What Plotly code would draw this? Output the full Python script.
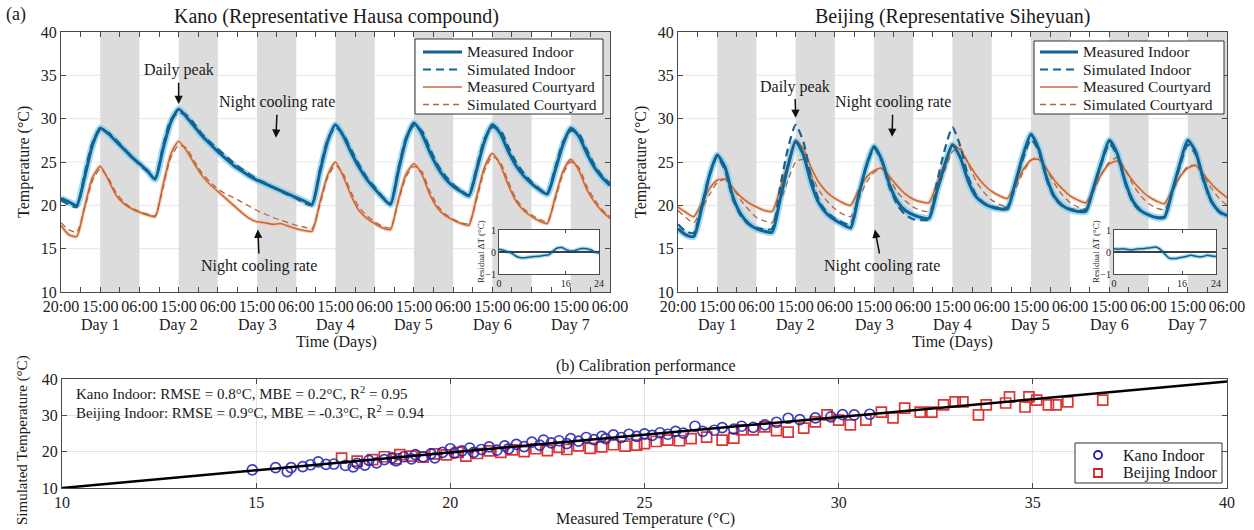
import numpy as np
import plotly.graph_objects as go

W, H = 1254, 530
FONT = "Liberation Serif, Times New Roman, serif"

# ---------------- data: time series (days, 0.1-day steps) ----------------
t_days = np.round(np.arange(0, 7.01, 0.1), 1)

kano_meas_indoor = [
    20.8, 20.4, 20.0, 23.2, 26.9, 28.9, 28.3, 27.4, 26.5, 25.6,
    24.8, 24.0, 23.0, 26.5, 29.6, 31.1, 30.2, 29.1, 28.0, 27.1,
    26.2, 25.4, 24.6, 24.0, 23.4, 22.9, 22.5, 22.1, 21.7, 21.3,
    20.9, 20.5, 20.1, 23.8, 27.4, 29.3, 28.0, 26.1, 24.4, 23.0,
    21.9, 20.9, 20.1, 23.9, 27.6, 29.5, 28.3, 26.2, 24.4, 23.1,
    22.2, 21.6, 21.1, 24.1, 27.4, 29.3, 28.3, 26.3, 24.6, 23.4,
    22.5, 21.8, 21.3, 24.0, 27.0, 28.9, 28.0, 26.1, 24.4, 23.2,
    22.3]
kano_sim_indoor = [
    20.6, 20.1, 19.8, 23.6, 27.2, 28.7, 28.4, 27.6, 26.6, 25.6,
    24.7, 23.9, 23.1, 26.8, 29.9, 30.7, 30.4, 29.4, 28.2, 27.3,
    26.5, 25.7, 24.9, 24.2, 23.6, 23.0, 22.6, 22.1, 21.6, 21.2,
    20.8, 20.3, 20.0, 24.1, 27.6, 29.0, 28.2, 26.4, 24.7, 23.2,
    22.1, 21.0, 20.2, 24.2, 27.8, 29.2, 28.6, 26.6, 24.7, 23.4,
    22.4, 21.7, 21.2, 24.4, 27.7, 29.0, 28.7, 26.8, 25.0, 23.7,
    22.7, 21.9, 21.4, 24.3, 27.3, 28.6, 28.3, 26.5, 24.7, 23.4,
    22.5]
kano_meas_court = [
    17.7, 16.6, 16.4, 19.8, 23.2, 24.5, 23.0, 21.2, 20.2, 19.6,
    19.2, 18.9, 18.7, 22.3, 25.9, 27.4, 26.3, 24.8, 23.4, 22.4,
    21.6, 20.8, 20.0, 19.2, 18.5, 18.1, 18.0, 17.8, 17.9, 17.6,
    17.3, 17.1, 17.0, 20.3, 23.5, 25.0, 23.3, 21.1, 19.4, 18.5,
    17.9, 17.4, 17.2, 20.6, 23.6, 24.8, 23.6, 21.3, 19.7, 18.8,
    18.3, 17.9, 17.7, 21.0, 24.4, 26.0, 24.7, 22.4, 20.5, 19.4,
    18.7, 18.2, 17.9, 20.9, 23.9, 25.3, 24.1, 21.9, 20.4, 19.3,
    18.5]
kano_sim_court = [
    18.0, 17.2, 16.9, 19.6, 22.8, 24.2, 23.2, 21.5, 20.4, 19.7,
    19.3, 19.0, 18.8, 22.0, 25.5, 26.9, 26.6, 25.1, 23.7, 22.7,
    21.9, 21.3, 20.9, 20.4, 19.9, 19.4, 19.0, 18.6, 18.3, 18.0,
    17.7, 17.5, 17.3, 20.0, 23.2, 24.6, 23.6, 21.5, 19.8, 18.8,
    18.1, 17.6, 17.4, 20.4, 23.3, 24.5, 23.9, 21.7, 20.0, 19.0,
    18.4, 18.0, 17.9, 20.7, 24.0, 25.6, 25.0, 22.8, 20.8, 19.6,
    18.9, 18.4, 18.1, 20.6, 23.6, 25.0, 24.4, 22.3, 20.7, 19.5,
    18.7]

beijing_meas_indoor = [
    17.3, 16.6, 16.4, 19.6, 23.4, 25.8, 24.4, 21.0, 19.0, 17.9,
    17.3, 17.0, 16.9, 20.6, 24.4, 27.4, 25.8, 22.5, 20.2, 19.0,
    18.3, 17.8, 17.4, 21.0, 24.5, 26.8, 25.2, 22.3, 20.4, 19.4,
    18.9, 18.6, 18.5, 21.6, 24.6, 27.0, 25.5, 22.8, 21.0, 20.2,
    19.8, 19.6, 19.6, 22.6, 25.8, 28.2, 26.5, 23.2, 21.0, 20.0,
    19.5, 19.3, 19.3, 22.1, 25.0, 27.5, 26.0, 22.8, 20.5, 19.4,
    18.9, 18.6, 18.6, 21.6, 24.8, 27.5, 26.2, 23.0, 20.5, 19.3,
    18.8]
beijing_sim_indoor = [
    17.8, 17.0, 16.8, 19.9, 23.5, 25.6, 24.0, 20.7, 18.8, 17.8,
    17.4, 17.2, 17.3, 22.0, 26.5, 29.3, 27.3, 23.2, 20.5, 19.2,
    18.5, 18.0, 17.8, 21.2, 24.4, 26.6, 25.0, 22.0, 20.0, 18.9,
    18.4, 18.3, 18.4, 22.6, 26.4, 29.0, 26.8, 23.3, 21.2, 20.3,
    19.9, 19.7, 19.8, 22.4, 25.4, 27.6, 26.3, 23.0, 20.8, 19.9,
    19.6, 19.4, 19.5, 22.0, 24.8, 27.1, 25.8, 22.6, 20.3, 19.3,
    18.9, 18.6, 18.7, 21.5, 24.5, 27.0, 25.9, 22.8, 20.4, 19.2,
    18.6]
beijing_meas_court = [
    19.8, 19.2, 18.7, 20.2, 21.9, 22.9, 23.0, 22.0, 21.0, 20.3,
    19.8, 19.4, 19.3, 21.8, 24.8, 27.5, 26.5, 24.3, 22.6, 21.5,
    20.8, 20.3, 20.0, 21.7, 23.2, 24.0, 24.3, 23.3, 22.2, 21.3,
    20.7, 20.4, 20.3, 22.5, 24.9, 27.0, 26.4, 24.9, 23.5, 22.4,
    21.6, 21.1, 20.8, 22.4, 24.1, 25.2, 25.3, 24.2, 22.9, 21.9,
    21.1, 20.6, 20.3, 21.9, 23.6, 24.8, 25.1, 24.1, 22.8, 21.8,
    21.0, 20.5, 20.2, 21.7, 23.3, 24.3, 24.6, 23.6, 22.5, 21.6,
    20.9]
beijing_sim_court = [
    19.4, 18.6, 18.0, 19.5, 21.2, 22.6, 23.0, 22.0, 20.6, 19.5,
    18.6, 18.2, 18.0, 20.3, 22.8, 25.0, 25.3, 23.5, 21.7, 20.5,
    19.6, 19.0, 18.7, 20.6, 22.6, 23.8, 24.2, 23.0, 21.5, 20.5,
    19.8, 19.4, 19.3, 21.5, 24.0, 26.2, 26.6, 24.8, 22.8, 21.5,
    20.6, 20.1, 19.9, 21.8, 23.8, 25.2, 25.6, 24.2, 22.5, 21.2,
    20.3, 19.8, 19.6, 21.6, 23.6, 25.0, 25.5, 24.2, 22.4, 21.1,
    20.2, 19.7, 19.5, 21.4, 23.3, 24.5, 24.6, 23.5, 22.0, 20.8,
    20.0]

# axis tick definitions
x_tick_vals = [i * 0.5 for i in range(15)]
x_tick_text = ["20:00"] + ["15:00", "06:00"] * 7
day_names = ["Day 1", "Day 2", "Day 3", "Day 4", "Day 5", "Day 6", "Day 7"]
day_centers = [0.5, 1.5, 2.5, 3.5, 4.5, 5.5, 6.5]
night_bands = [(0.5, 1.0), (1.5, 2.0), (2.5, 3.0), (3.5, 4.0), (4.5, 5.0), (5.5, 6.0), (6.5, 7.0)]
temp_grid = [15, 20, 25, 30, 35]
series_names = ["Measured Indoor", "Simulated Indoor", "Measured Courtyard", "Simulated Courtyard"]

# residual insets (hour of day)
resid_hours = list(range(25))
kano_resid = [0.12, 0.08, 0.02, -0.05, -0.18, -0.25, -0.26, -0.24, -0.22, -0.20, -0.18, -0.15, -0.12,
              0.05, 0.18, 0.20, 0.12, 0.05, 0.05, 0.12, 0.16, 0.15, 0.10, 0.00, -0.05]
beijing_resid = [0.15, 0.13, 0.15, 0.12, 0.10, 0.12, 0.15, 0.15, 0.18, 0.20, 0.22, 0.10, -0.10,
                 -0.28, -0.30, -0.28, -0.24, -0.20, -0.15, -0.18, -0.22, -0.20, -0.15, -0.18, -0.20]

# calibration scatter (measured, simulated)
kano_scatter = [
    (14.9, 15.0), (15.5, 15.6), (15.8, 14.5), (15.9, 15.6), (16.2, 15.9), (16.4, 16.4), (16.6, 17.2),
    (16.8, 16.5), (17.0, 16.6), (17.3, 16.2), (17.5, 15.8), (17.6, 16.8), (17.8, 16.3), (17.9, 17.6),
    (18.1, 16.9), (18.3, 17.8), (18.5, 18.3), (18.6, 17.5), (18.8, 18.6), (19.0, 18.0), (19.1, 19.2),
    (19.3, 18.6), (19.5, 19.4), (19.6, 18.3), (19.8, 19.8), (20.0, 20.8), (20.1, 19.6), (20.3, 20.2),
    (20.5, 21.0), (20.6, 19.8), (20.8, 20.6), (21.0, 21.3), (21.2, 20.4), (21.4, 21.6), (21.5, 20.8),
    (21.7, 22.0), (21.9, 21.4), (22.1, 22.6), (22.3, 21.8), (22.4, 23.2), (22.6, 22.4), (22.8, 23.0),
    (23.0, 22.2), (23.1, 23.6), (23.3, 22.9), (23.5, 23.9), (23.7, 23.3), (23.9, 24.2), (24.0, 23.6),
    (24.2, 24.6), (24.4, 23.9), (24.6, 24.8), (24.8, 24.2), (25.0, 24.9), (25.2, 24.5), (25.4, 25.2),
    (25.6, 24.8), (25.8, 25.6), (26.0, 25.1), (26.3, 27.0), (26.5, 25.6), (26.8, 25.9), (27.0, 26.6),
    (27.3, 26.2), (27.5, 27.0), (27.8, 26.7), (28.1, 27.4), (28.4, 28.1), (28.7, 29.2), (29.0, 28.8),
    (29.4, 29.3), (29.8, 29.6), (30.1, 30.2), (30.4, 30.1), (30.8, 30.3)]
beijing_scatter = [
    (17.2, 18.2), (17.6, 17.4), (18.0, 17.8), (18.3, 18.6), (18.6, 18.0), (18.7, 19.2), (19.0, 18.8),
    (19.3, 18.5), (19.6, 19.4), (19.9, 19.1), (20.2, 19.8), (20.4, 18.8), (20.7, 19.5), (21.0, 20.2),
    (21.3, 19.8), (21.6, 20.5), (21.9, 20.0), (22.2, 20.8), (22.5, 20.3), (22.8, 21.2), (23.0, 20.6),
    (23.3, 21.6), (23.6, 20.9), (23.9, 21.3), (24.2, 21.9), (24.5, 21.5), (24.8, 21.8), (25.0, 22.2),
    (25.3, 22.8), (25.6, 23.2), (25.9, 23.0), (26.2, 23.6), (26.6, 24.0), (27.0, 23.2), (27.3, 23.7),
    (27.5, 26.0), (27.8, 26.0), (28.1, 26.8), (28.4, 25.8), (28.7, 25.4), (29.1, 26.5), (29.4, 28.2),
    (29.7, 30.1), (30.0, 28.7), (30.3, 27.4), (30.7, 28.7), (31.1, 30.9), (31.4, 29.3), (31.7, 32.0),
    (32.1, 30.9), (32.4, 30.9), (32.7, 32.9), (33.0, 33.7), (33.2, 33.7), (33.6, 30.1), (33.8, 32.9),
    (34.3, 33.4), (34.4, 35.1), (34.8, 32.3), (34.9, 35.1), (35.1, 34.2), (35.4, 32.9), (35.6, 32.9),
    (35.9, 33.7), (36.8, 34.2)]
fit_x = [10, 40]
fit_y = [10, 39.3]

stats_lines = ["Kano Indoor: RMSE = 0.8°C, MBE = 0.2°C, R<sup>2</sup> = 0.95",
               "Beijing Indoor: RMSE = 0.9°C, MBE = -0.3°C, R<sup>2</sup> = 0.94"]
scatter_names = ["Kano Indoor", "Beijing Indoor"]

# ---------------- styling ----------------
BLUE = "#16628e"
BLUE_HALO = "rgba(130,205,240,0.75)"
ORANGE = "#c46a3e"
ORANGE_SIM = "#b5653f"
ORANGE_HALO = "rgba(245,200,170,0.7)"
KANO_C = "#1c1cb4"
BEIJING_C = "#d82020"
AX = "#4a4a4a"
TXT = "#1a1a1a"
series_styles = [  # color, width, dash
    (BLUE, 3, "solid"),
    (BLUE, 2.2, "8px,5px"),
    (ORANGE, 1.6, "solid"),
    (ORANGE_SIM, 1.3, "6px,4px"),
]


def xdom(a, b):
    return [a / W, b / W]


def ydom(top, bottom):
    return [1 - bottom / H, 1 - top / H]


def py(v):
    return 1 - v / H


# pixel layout
LEFT = (61, 610)
RIGHT = (678, 1227)
TOP_Y = (32, 292)
BOT = (62, 1227)
BOT_Y = (379, 488)
INSET_L = (499, 599)
INSET_R = (1114, 1216)
INSET_Y = (230, 274)

fig = go.Figure()


def add_series(xa, ya, data):
    mi, si, mc, sc = data
    fig.add_trace(go.Scatter(x=t_days, y=mc, mode="lines", line=dict(color=ORANGE_HALO, width=4, shape="spline", smoothing=0.6),
                             xaxis=xa, yaxis=ya, showlegend=False, hoverinfo="skip"))
    fig.add_trace(go.Scatter(x=t_days, y=mi, mode="lines", line=dict(color=BLUE_HALO, width=7, shape="spline", smoothing=0.6),
                             xaxis=xa, yaxis=ya, showlegend=False, hoverinfo="skip"))
    for idx in (2, 3, 0, 1):
        col, wid, dash = series_styles[idx]
        fig.add_trace(go.Scatter(x=t_days, y=data[idx], mode="lines", name=series_names[idx], showlegend=False,
                                 line=dict(color=col, width=wid, dash=dash, shape="spline", smoothing=0.6),
                                 xaxis=xa, yaxis=ya))


add_series("x", "y", (kano_meas_indoor, kano_sim_indoor, kano_meas_court, kano_sim_court))
add_series("x2", "y2", (beijing_meas_indoor, beijing_sim_indoor, beijing_meas_court, beijing_sim_court))

# calibration scatter
fig.add_trace(go.Scatter(x=[p[0] for p in beijing_scatter], y=[p[1] for p in beijing_scatter], mode="markers",
                         name=scatter_names[1], showlegend=False,
                         marker=dict(symbol="square-open", size=10, color=BEIJING_C, line=dict(width=1.7)),
                         opacity=0.9, xaxis="x3", yaxis="y3"))
fig.add_trace(go.Scatter(x=[p[0] for p in kano_scatter], y=[p[1] for p in kano_scatter], mode="markers",
                         name=scatter_names[0], showlegend=False,
                         marker=dict(symbol="circle-open", size=10, color=KANO_C, line=dict(width=1.7)),
                         opacity=0.85, xaxis="x3", yaxis="y3"))
fig.add_trace(go.Scatter(x=fit_x, y=fit_y, mode="lines", line=dict(color="black", width=2.5),
                         showlegend=False, xaxis="x3", yaxis="y3", hoverinfo="skip"))

# insets
for xa, ya, res in (("x4", "y4", kano_resid), ("x5", "y5", beijing_resid)):
    fig.add_trace(go.Scatter(x=resid_hours, y=res, mode="lines", line=dict(color=BLUE_HALO, width=4, shape="spline"),
                             showlegend=False, xaxis=xa, yaxis=ya, hoverinfo="skip"))
    fig.add_trace(go.Scatter(x=[resid_hours[0], resid_hours[-1]], y=[0, 0], mode="lines",
                             line=dict(color="black", width=1.5), showlegend=False, xaxis=xa, yaxis=ya))
    fig.add_trace(go.Scatter(x=resid_hours, y=res, mode="lines", line=dict(color="#1d5f80", width=1.5, shape="spline"),
                             showlegend=False, xaxis=xa, yaxis=ya))

# ---------------- axes ----------------
common = dict(showline=True, linecolor=AX, linewidth=1, mirror="ticks", ticks="inside", tickcolor=AX,
              zeroline=False, showgrid=False, automargin=False,
              tickfont=dict(family=FONT, size=16, color="#222"))


def time_axis(dom, anchor):
    return dict(common, domain=xdom(*dom), anchor=anchor, range=[0, 7], tickmode="array",
                tickvals=x_tick_vals, ticktext=x_tick_text, ticklen=5, tickangle=0,
                minor=dict(tickmode="linear", tick0=0, dtick=0.25, ticks="inside", ticklen=5, tickcolor=AX))


def temp_axis(anchor):
    return dict(common, domain=ydom(*TOP_Y), anchor=anchor, range=[10, 40], dtick=5, ticklen=5)


small = dict(showline=True, linecolor=AX, linewidth=1, mirror="ticks", ticks="inside", tickcolor=AX, ticklen=3,
             zeroline=False, showgrid=False, tickangle=0, automargin=False,
             tickfont=dict(family=FONT, size=10, color="#222"))

fig.update_layout(
    xaxis=time_axis(LEFT, "y"), yaxis=temp_axis("x"),
    xaxis2=time_axis(RIGHT, "y2"), yaxis2=temp_axis("x2"),
    xaxis3=dict(common, domain=xdom(*BOT), anchor="y3", range=[10, 40], dtick=5, ticklen=5, tickangle=0,
                showgrid=True, gridcolor="#e4e4e4"),
    yaxis3=dict(common, domain=ydom(*BOT_Y), anchor="x3", range=[10, 40], dtick=10, ticklen=5,
                showgrid=True, gridcolor="#e4e4e4"),
    xaxis4=dict(small, domain=xdom(*INSET_L), anchor="y4", range=[0, 24], tickvals=[0, 16, 24]),
    yaxis4=dict(small, domain=ydom(*INSET_Y), anchor="x4", range=[-1, 1], tickvals=[-1, 0, 1]),
    xaxis5=dict(small, domain=xdom(*INSET_R), anchor="y5", range=[0, 24], tickvals=[0, 16, 24]),
    yaxis5=dict(small, domain=ydom(*INSET_Y), anchor="x5", range=[-1, 1], tickvals=[-1, 0, 1]),
)

# ---------------- shapes: grid, night bands, inset backgrounds, legends ----------------
shapes = []
for xr, yr in (("x", "y"), ("x2", "y2")):
    for g in temp_grid:
        shapes.append(dict(type="line", xref=f"{xr} domain", yref=yr, x0=0, x1=1, y0=g, y1=g,
                           line=dict(color="#e6e6e6", width=1), layer="below"))
    for a, b in night_bands:
        shapes.append(dict(type="rect", xref=xr, yref=f"{yr} domain", x0=a, x1=b, y0=0, y1=1,
                           fillcolor="#dcdcdc", line=dict(width=0), layer="below"))
for dom in (INSET_L, INSET_R):
    shapes.append(dict(type="rect", xref="paper", yref="paper", x0=dom[0] / W, x1=dom[1] / W,
                       y0=py(INSET_Y[1]), y1=py(INSET_Y[0]), fillcolor="white", line=dict(width=0), layer="below"))

ann = []


def txt(x, y, s, size=16, xref="paper", yref="paper", angle=0, xanchor="center", yanchor="middle", color=TXT):
    ann.append(dict(x=x, y=y, xref=xref, yref=yref, text=s, showarrow=False, textangle=angle,
                    xanchor=xanchor, yanchor=yanchor, font=dict(family=FONT, size=size, color=color)))


def legend_box(l, t, r, b):
    shapes.append(dict(type="rect", xref="paper", yref="paper", x0=l / W, x1=r / W, y0=py(b), y1=py(t),
                       fillcolor="white", line=dict(color="#333", width=1), layer="above"))


# panel legends
LEG_ROWS = [52, 69.5, 87, 104.5]
for box, line_x, text_x in (((415, 39, 603, 114), (423, 462), 465),
                            ((1034, 41, 1224, 114), (1040, 1078), 1081)):
    legend_box(*box)
    for ry, nm, (col, wid, dash) in zip(LEG_ROWS, series_names, series_styles):
        shapes.append(dict(type="line", xref="paper", yref="paper", x0=line_x[0] / W, x1=line_x[1] / W,
                           y0=py(ry), y1=py(ry), line=dict(color=col, width=wid, dash=dash), layer="above"))
        txt(text_x / W, py(ry), nm, size=15.5, xanchor="left")

# calibration legend
legend_box(1075, 443, 1222, 483)
for ry, nm, col, kind in ((455, scatter_names[0], KANO_C, "circle"), (473, scatter_names[1], BEIJING_C, "rect")):
    shapes.append(dict(type=kind, xref="paper", yref="paper", x0=(1098 - 4) / W, x1=(1098 + 4) / W,
                       y0=py(ry + 4), y1=py(ry - 4), line=dict(color=col, width=1.8), layer="above"))
    txt(1121 / W, py(ry), nm, size=16, xanchor="left")
fig.update_layout(shapes=shapes)


def callout(xr, yr, x_tip, y_tip, x_text, y_text, s):
    ann.append(dict(x=x_tip, y=y_tip, ax=x_text, ay=y_text, xref=xr, yref=yr, axref=xr, ayref=yr, text=s,
                    showarrow=True, arrowhead=2, arrowsize=1.1, arrowwidth=1.5, arrowcolor="#111", standoff=0,
                    borderpad=3, font=dict(family=FONT, size=16, color=TXT)))


txt(16 / W, py(15), "(a)", size=18)
txt(336 / W, py(17), "Kano (Representative Hausa compound)", size=20)
txt(952 / W, py(17), "Beijing (Representative Siheyuan)", size=20)
txt(24 / W, py(162), "Temperature (°C)", angle=-90)
txt(641 / W, py(162), "Temperature (°C)", angle=-90)
txt(336 / W, py(342), "Time (Days)")
txt(952 / W, py(342), "Time (Days)")
for xr in ("x", "x2"):
    for c, nm in zip(day_centers, day_names):
        txt(c, py(325), nm, xref=xr)

# inset y titles
txt(481 / W, py(252), "Residual ΔT (°C)", size=9, angle=-90)
txt(1096 / W, py(252), "Residual ΔT (°C)", size=9, angle=-90)

# callouts
callout("x", "y", 1.5, 31.7, 1.5, 35.6, "Daily peak")
callout("x", "y", 2.74, 27.8, 2.76, 31.9, "Night cooling rate")
callout("x", "y", 2.51, 17.2, 2.53, 13.0, "Night cooling rate")
callout("x2", "y2", 1.5, 30.1, 1.49, 33.7, "Daily peak")
callout("x2", "y2", 2.73, 27.9, 2.74, 31.9, "Night cooling rate")
callout("x2", "y2", 2.51, 17.2, 2.6, 13.0, "Night cooling rate")

# bottom panel text
txt(645 / W, py(366), "(b) Calibration performance")
txt(645 / W, py(519), "Measured Temperature (°C)")
txt(22 / W, py(440), "Simulated Temperature (°C)", size=15, angle=-90)
txt(74 / W, py(393), stats_lines[0], size=15, xanchor="left")
txt(74 / W, py(412), stats_lines[1], size=15, xanchor="left")

fig.update_layout(annotations=ann)

fig.update_layout(width=W, height=H, margin=dict(l=0, r=0, t=0, b=0, autoexpand=False), paper_bgcolor="white",
                  plot_bgcolor="white", showlegend=False, hovermode=False,
                  font=dict(family=FONT, size=16, color=TXT))

# the page body has a default 8px margin; remove it so the figure fills the window exactly
fig.write_html("out.html", config={"displayModeBar": False, "staticPlot": True},
               post_script="document.body.style.margin='0px'; document.body.style.overflow='hidden';")
